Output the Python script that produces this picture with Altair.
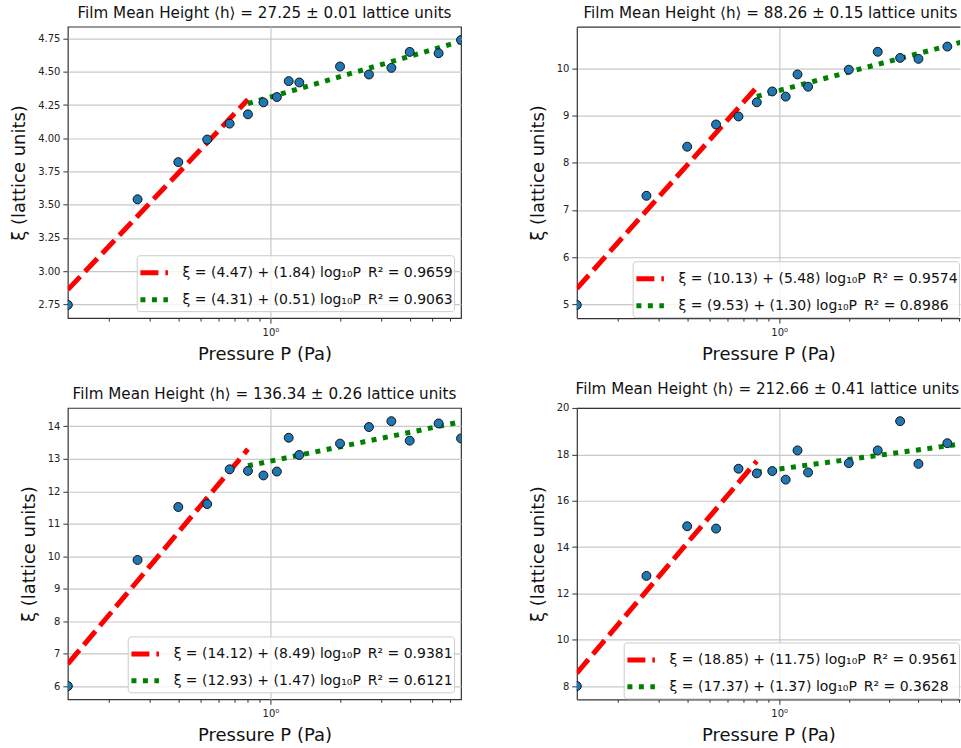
import altair as alt
import pandas as pd

# ---- data ----
P_VALUES = [0.1333, 0.2667, 0.4, 0.5333, 0.6667, 0.8, 0.9333, 1.0667,
            1.2, 1.3333, 2.0, 2.6667, 3.3333, 4.0, 5.3333, 6.6667]

XI_1 = [2.745, 3.54, 3.82, 3.99, 4.11, 4.18, 4.27, 4.31, 4.43, 4.42, 4.54, 4.48, 4.53, 4.65, 4.64, 4.74]
XI_2 = [4.99, 7.30, 8.34, 8.81, 8.98, 9.28, 9.51, 9.40, 9.87, 9.61, 9.97, 10.35, 10.22, 10.20, 10.46, 10.60]
XI_3 = [6.01, 9.89, 11.52, 11.61, 12.68, 12.63, 12.49, 12.61, 13.65, 13.12, 13.47, 13.98, 14.16, 13.56, 14.09, 13.63]
XI_4 = [8.01, 12.76, 14.90, 14.80, 17.38, 17.18, 17.28, 16.91, 18.17, 17.22, 17.62, 18.17, 19.43, 17.59, 18.48, 18.30]

TITLES = [
    "Film Mean Height ⟨h⟩ = 27.25 ± 0.01 lattice units",
    "Film Mean Height ⟨h⟩ = 88.26 ± 0.15 lattice units",
    "Film Mean Height ⟨h⟩ = 136.34 ± 0.26 lattice units",
    "Film Mean Height ⟨h⟩ = 212.66 ± 0.41 lattice units",
]

# fits: (intercept, slope, R^2) for low-pressure (red) and high-pressure (green) branches
FIT_LOW = [(4.47, 1.84, 0.9659), (10.13, 5.48, 0.9574), (14.12, 8.49, 0.9381), (18.85, 11.75, 0.9561)]
FIT_HIGH = [(4.31, 0.51, 0.9063), (9.53, 1.30, 0.8986), (12.93, 1.47, 0.6121), (17.37, 1.37, 0.3628)]
LOW_RANGE = (0, 5)    # index range of P used for the red fit
HIGH_RANGE = (5, 15)  # index range of P used for the green fit

Y_TICKS = [
    [2.75, 3.0, 3.25, 3.5, 3.75, 4.0, 4.25, 4.5, 4.75],
    [5, 6, 7, 8, 9, 10],
    [6, 7, 8, 9, 10, 11, 12, 13, 14],
    [8, 10, 12, 14, 16, 18, 20],
]
Y_FORMATS = [".2f", "d", "d", "d"]
X_TICKS = [0.2, 0.3, 0.4, 0.5, 0.6, 0.7, 0.8, 0.9, 1, 2, 3, 4, 5, 6]
# right-hand panels are cut off by the picture edge: visible x range ends here
X_MAX_VISIBLE_RIGHT = 6.05
TITLE_DX = [0, 2, 0, -1]

XI_ALL = [XI_1, XI_2, XI_3, XI_4]

PW, PH = 394, 292
PW_RIGHT = 384

SP = "\u2002"


def label(a, b, r2):
    return f"ξ = ({a:.2f}) + ({b:.2f}) log₁₀P{SP}R² = {r2:.4f}"


def panel(i):
    right = i % 2 == 1
    xi = XI_ALL[i]
    pts = pd.DataFrame({"P": P_VALUES, "xi": xi})
    lo_lab = label(*FIT_LOW[i])
    hi_lab = label(*FIT_HIGH[i])
    lines = pd.DataFrame({
        "P": [P_VALUES[LOW_RANGE[0]], P_VALUES[LOW_RANGE[1]],
              P_VALUES[HIGH_RANGE[0]], P_VALUES[HIGH_RANGE[1]]],
        "fit": [lo_lab, lo_lab, hi_lab, hi_lab],
        "a": [FIT_LOW[i][0]] * 2 + [FIT_HIGH[i][0]] * 2,
        "b": [FIT_LOW[i][1]] * 2 + [FIT_HIGH[i][1]] * 2,
    })
    rng = max(xi) - min(xi)
    ydom = [min(xi) - 0.05 * rng, max(xi) + 0.05 * rng]
    xmax = X_MAX_VISIBLE_RIGHT if right else P_VALUES[-1]
    x_scale = alt.Scale(type="log", domain=[P_VALUES[0], xmax], nice=False)

    x_axis = alt.Axis(
        values=X_TICKS,
        labelExpr="datum.value == 1 ? '10⁰' : ''",
        title="Pressure P (Pa)",
        gridOpacity={"condition": {"test": "datum.value == 1", "value": 1}, "value": 0},
        tickSize={"condition": {"test": "datum.value == 1", "value": 5}, "value": 3},
        labelPadding=4,
        titlePadding=8,
        domain=right,
    )
    top_axis = alt.Axis(orient="top", labels=False, ticks=False, grid=False, domain=True, title="")
    y_scale = alt.Scale(domain=ydom, nice=False, zero=False)
    y_axis = alt.Axis(values=Y_TICKS[i], format=Y_FORMATS[i], title="ξ (lattice units)",
                      tickSize=5, labelPadding=3, titlePadding=9, domain=right)

    line_chart = alt.Chart(lines).transform_calculate(
        xi="datum.a + datum.b * log(datum.P) / LN10"
    ).mark_line(strokeWidth=5, clip=True).encode(
        x=alt.X("P:Q", scale=x_scale, axis=x_axis),
        y=alt.Y("xi:Q", scale=y_scale, axis=y_axis),
        color=alt.Color("fit:N", scale=alt.Scale(domain=[lo_lab, hi_lab], range=["#ff0000", "#008000"]),
                        legend=alt.Legend(title=None, offset=1 if right else 7)),
        strokeDash=alt.StrokeDash("fit:N", scale=alt.Scale(domain=[lo_lab, hi_lab], range=[[18, 7], [5, 6.5]]),
                                  legend=alt.Legend(title=None, offset=1 if right else 7)),
    )
    point_chart = alt.Chart(pts).mark_point(
        filled=True, fill="#1f77b4", stroke="#111111", strokeWidth=1, size=80, opacity=1, clip=True
    ).encode(
        x=alt.X("P:Q", scale=x_scale, axis=top_axis if right else x_axis),
        y=alt.Y("xi:Q", scale=y_scale, axis=y_axis),
    )
    layer = alt.layer(line_chart, point_chart)
    title = alt.TitleParams(TITLES[i], dx=TITLE_DX[i])
    if right:
        layer = layer.resolve_axis(x="independent").properties(
            width=PW_RIGHT, height=PH, title=title,
            view=alt.ViewBackground(stroke="transparent"),
        )
    else:
        layer = layer.properties(width=PW, height=PH, title=title)
    return layer


chart = alt.concat(
    *[panel(i) for i in range(4)], columns=2, spacing={"row": 90, "column": 116}
).properties(
    bounds="flush",
    padding={"left": 10, "top": 4, "right": 0, "bottom": 0},
    background="white",
).resolve_scale(
    x="independent", y="independent", color="independent", strokeDash="independent"
).resolve_legend(
    color="independent", strokeDash="independent"
).configure_view(
    stroke="#333333", strokeWidth=1.2
).configure_axis(
    labelFont="DejaVu Sans", titleFont="DejaVu Sans", labelFontSize=10, titleFontSize=18,
    titleFontWeight="normal", labelColor="#222222", titleColor="#111111",
    domainColor="#333333", domainWidth=1.2,
    tickColor="#333333", gridColor="#c8c8c8", gridWidth=1.2,
).configure_title(
    font="DejaVu Sans", fontSize=15.2, fontWeight="normal", anchor="middle", offset=6, color="#111111"
).configure_legend(
    orient="bottom-right", fillColor="rgba(255,255,255,0.8)", strokeColor="#cccccc",
    cornerRadius=3, padding=1, labelFont="DejaVu Sans", labelFontSize=14, labelColor="#111111",
    symbolType="stroke", symbolSize=760, symbolStrokeWidth=5, labelLimit=500, labelOffset=12,
    rowPadding=0,
)

chart.save("out.html", embed_options={"renderer": "svg", "actions": False})
